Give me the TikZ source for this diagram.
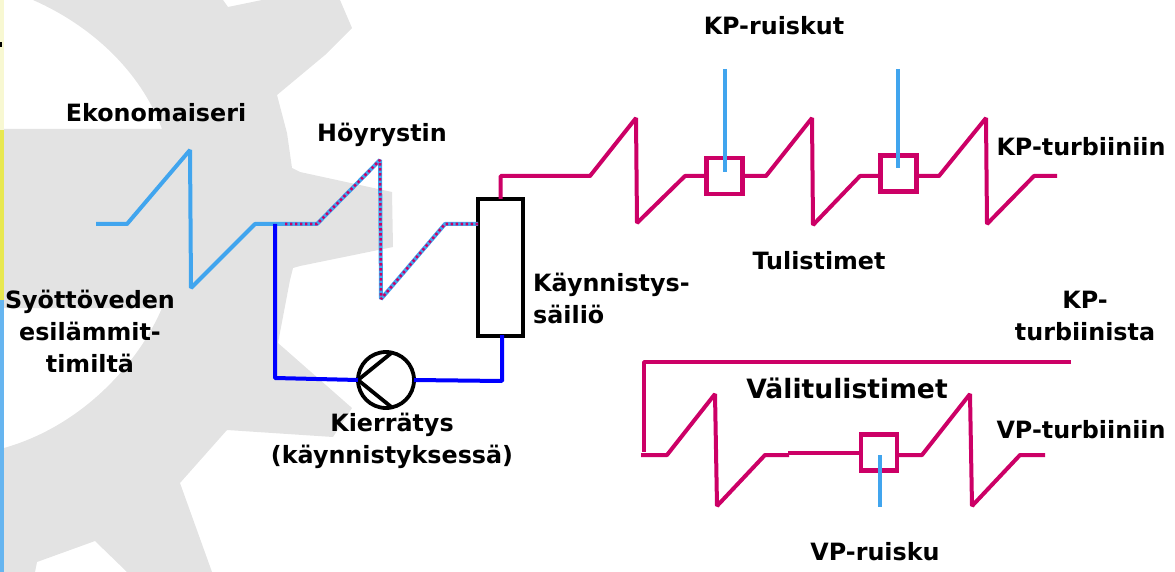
\documentclass[tikz,border=0pt]{standalone}
\usepackage{fontspec}
\setmainfont{DejaVu Sans}
\definecolor{gearGrey}{HTML}{E3E3E3}
\definecolor{waterBlue}{HTML}{41A5EE}
\definecolor{steamRed}{HTML}{CC0066}
\definecolor{paleYellow}{HTML}{F8F8D2}
\definecolor{stripYellow}{HTML}{E8E850}
\definecolor{stripBlue}{HTML}{66B5F0}
\tikzset{
	water/.style={draw=waterBlue, line width=4pt, line join=bevel},
	wet/.style={draw=steamRed, line width=2.6pt, dash pattern=on 2.4pt off 2.6pt, line join=bevel},
	steam/.style={draw=steamRed, line width=4pt, line join=bevel},
	recirc/.style={draw=blue, line width=4pt, line join=bevel},
	spraybox/.style={draw=steamRed, line width=4.4pt, minimum size=36pt, inner sep=0pt, outer sep=0pt},
	tankbox/.style={draw=black, line width=4.4pt, fill=white, minimum width=45pt, minimum height=137pt, inner sep=0pt, outer sep=0pt},
	pumpnode/.style={draw=black, circle, line width=3.8pt, minimum size=56pt, inner sep=0pt, outer sep=0pt},
	lbl/.style={font=\fontsize{23.8}{32}\selectfont\bfseries, align=center, inner sep=0pt}
}

\begin{document}
\begin{tikzpicture}[x=1pt, y=-1pt]
			%%%%% BACKGROUND %%%%%
			\useasboundingbox (0, 0) rectangle (1175, 572);
			
			\fill[gearGrey] (33, 0) -- (223, 0) -- (228, 7) -- (262, 0) -- (340, 0) -- (352, 28) -- (325, 55) -- (277, 95)
				-- (287, 133) -- (292, 168) -- (300, 172) -- (392, 192) -- (393, 247) -- (300, 266) -- (293, 268)
				-- (290, 280) -- (278, 343) -- (352, 408) -- (333, 437) -- (227, 430) -- (180, 483) -- (212, 572)
				-- (127, 572) -- (95, 541) -- (37, 562) -- (35, 572) -- (4, 572) -- (4, 448)
				.. controls (85, 425) and (140, 360) .. (162, 308) -- (4, 308) -- (4, 129) -- (162, 129)
				.. controls (140, 70) and (90, 25) .. (33, 0) -- cycle;
			
			\fill[paleYellow] (0, 0) rectangle (4, 130);
			\fill[stripYellow] (0, 130) rectangle (4, 300);
			\fill[stripBlue] (0, 300) rectangle (4, 572);
			\fill[black] (0, 42) rectangle (1.5, 47);
			
			%%%%% EQUIPMENT %%%%%
			\node[tankbox] (tank) at (500.5, 267.5) {};
			\node[pumpnode] (pump) at (386, 380) {};
			\node[spraybox] (sprayA) at (724.5, 176) {};
			\node[spraybox] (sprayB) at (898.5, 173.5) {};
			\node[spraybox] (sprayC) at (879, 452.5) {};
			
			\draw[line width=3.8pt] (pump.west) -- (pump.78);
			\draw[line width=3.8pt] (pump.west) -- (pump.-78);
			
			%%%%% ECONOMISER AND EVAPORATOR %%%%%
			\draw[water] (96, 224) -- (127, 224) -- (190, 150) -- (191, 288) -- (255, 224) -- (285, 224);
			\draw[water] (285, 224) -- (317, 224) -- (380, 160) -- (381, 299) -- (445, 224) -- (tank.west |- 445, 224);
			\draw[wet] (285, 224) -- (317, 224) -- (380, 160) -- (381, 299) -- (445, 224) -- (tank.west |- 445, 224);
			
			\draw[recirc] (275, 224) -- (275, 378) -- (pump.west);
			\draw[recirc] (pump.east) -- (502, 381) -- (502, 335);
			
			%%%%% SUPERHEATERS %%%%%
			\draw[steam] (tank.north) |- (590, 176) -- (636, 118) -- (637, 223) -- (685, 176) -- (sprayA.west);
			\draw[steam] (sprayA.east) -- (766, 176) -- (812, 118) -- (813, 225) -- (860, 176) -- (sprayB.west |- 860, 176);
			\draw[steam] (sprayB.east |- 917, 176) -- (939, 176) -- (986, 118) -- (987, 224) -- (1034, 176) -- (1057, 176);
			
			\draw[water] (724.5, 69) -- (724.5, 172);
			\draw[water] (898, 69) -- (898, 168);
			
			%%%%% REHEATERS %%%%%
			\draw[steam] (1071, 361.5) -- (643.5, 361.5) -- (643.5, 452);
			\draw[steam] (641, 455) -- (667, 455) -- (715, 394) -- (717, 506) -- (765, 455) -- (789, 455);
			\draw[steam] (788, 452.5) -- (sprayC.west);
			\draw[steam] (sprayC.east |- 898, 455) -- (922, 455) -- (970, 394) -- (972, 506) -- (1020, 455) -- (1045, 455);
			\draw[water] (880, 455) -- (880, 507);
			
			%%%%% LABELS %%%%%
			\node[lbl] (eko) at (156, 113) {Ekonomaiseri};
			\node[lbl] (hoyry) at (382, 134.5) {Höyrystin};
			\node[lbl] (feed) at (90, 331.5) {Syöttöveden\\esilämmit-\\timiltä};
			\node[lbl] (circ) at (392, 440.5) {Kierrätys\\(käynnistyksessä)};
			\node[lbl, align=left, anchor=west] (tanklbl) at (533, 298) {Käynnistys-\\säiliö};
			\node[lbl] (kpsprays) at (774, 26) {KP-ruiskut};
			\node[lbl] (tuli) at (819, 261) {Tulistimet};
			\node[lbl] (kpout) at (1081, 147) {KP-turbiiniin};
			\node[lbl] (kpin) at (1085, 315.5) {KP-\\turbiinista};
			\node[lbl, font=\fontsize{26.6}{32}\selectfont\bfseries] (reheat) at (847, 388) {Välitulistimet};
			\node[lbl] (vpout) at (1081, 430) {VP-turbiiniin};
			\node[lbl] (vpspray) at (875, 552) {VP-ruisku};
			%%%%% END %%%%%
\end{tikzpicture}
\end{document}
